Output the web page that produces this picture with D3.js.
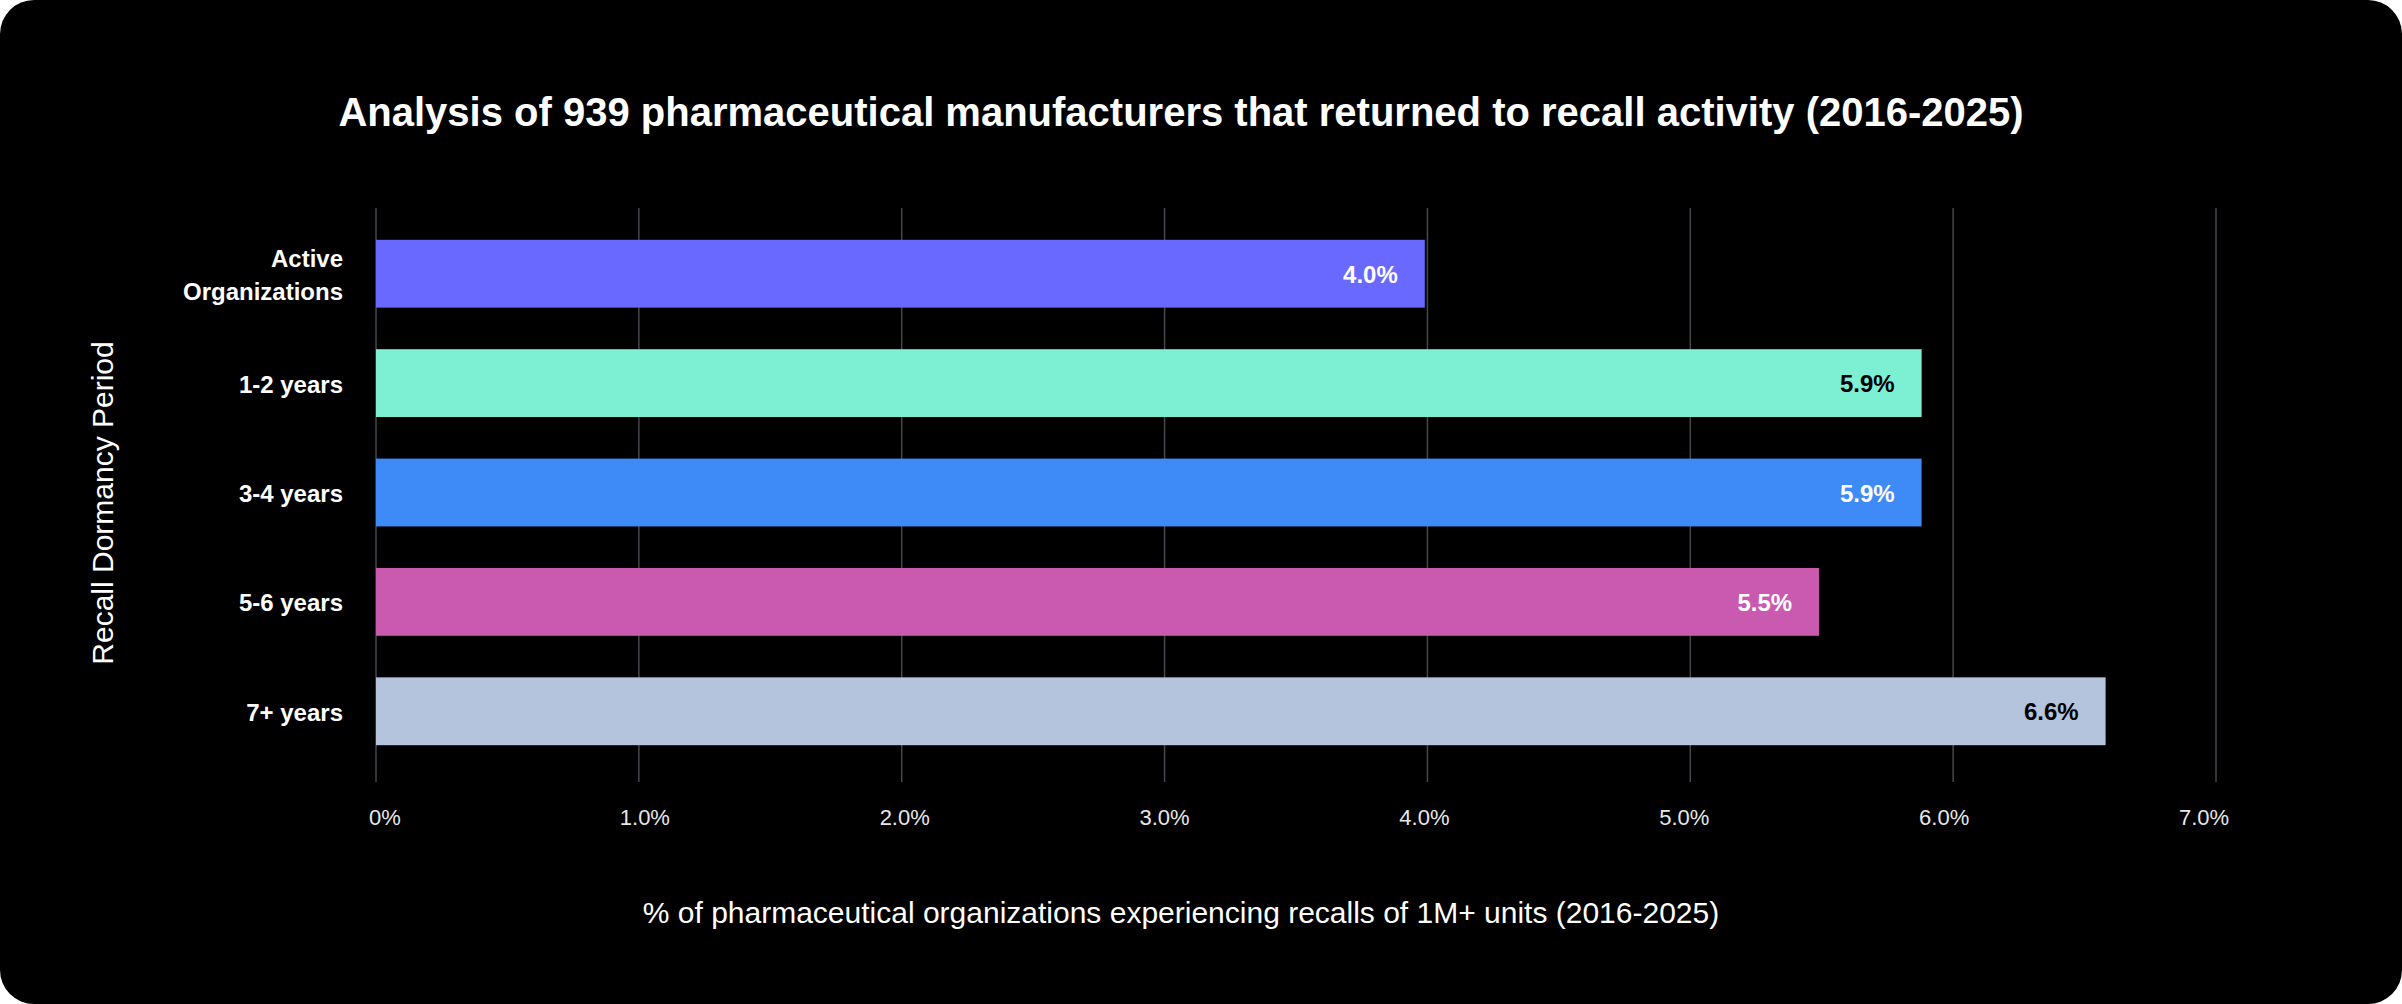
<!DOCTYPE html>
<html>
<head>
<meta charset="utf-8">
<script src="https://cdn.jsdelivr.net/npm/d3@7/dist/d3.min.js"></script>
<style>
  html, body { margin: 0; padding: 0; background: #ffffff; }
  svg { display: block; }
  text { font-family: "Liberation Sans", Arial, Helvetica, sans-serif; }
</style>
</head>
<body>
<div id="chart"></div>
<script>
// ---- data ----
const categories = ["Active Organizations", "1-2 years", "3-4 years", "5-6 years", "7+ years"];
const categoryLines = [["Active", "Organizations"], ["1-2 years"], ["3-4 years"], ["5-6 years"], ["7+ years"]];
const values = [3.99, 5.88, 5.88, 5.49, 6.58];
const barColors = ["#6969FF", "#7DEFD3", "#3E8BF8", "#C95AB0", "#B4C4DC"];
const valueLabelColors = ["#ffffff", "#000000", "#ffffff", "#ffffff", "#000000"];
const xTicks = [0, 1, 2, 3, 4, 5, 6, 7];
const xTickLabels = ["0%", "1.0%", "2.0%", "3.0%", "4.0%", "5.0%", "6.0%", "7.0%"];
const titleText = "Analysis of 939 pharmaceutical manufacturers that returned to recall activity (2016-2025)";
const xTitleText = "% of pharmaceutical organizations experiencing recalls of 1M+ units (2016-2025)";
const yTitleText = "Recall Dormancy Period";

// ---- layout ----
const W = 2402, H = 1004;
const svg = d3.select("#chart").append("svg").attr("width", W).attr("height", H);

svg.append("rect").attr("x", 0).attr("y", 0).attr("width", W).attr("height", H)
  .attr("rx", 34).attr("ry", 34).attr("fill", "#000000");

const x = d3.scaleLinear().domain([0, 7]).range([376, 2216]);
const xLabel = d3.scaleLinear().domain([0, 7]).range([384.5, 2203.5]);
const y = d3.scaleBand().domain(categories).range([207, 778]).paddingInner(0.38).paddingOuter(0.3);
const gridTop = 208, gridBottom = 782;

// gridlines
svg.append("g").selectAll("line").data(xTicks).join("line")
  .attr("x1", d => x(d)).attr("x2", d => x(d))
  .attr("y1", gridTop).attr("y2", gridBottom)
  .attr("stroke", "#44474e").attr("stroke-width", 1.5);

// bars
svg.append("g").selectAll("rect").data(categories).join("rect")
  .attr("x", x(0))
  .attr("y", d => y(d))
  .attr("width", (d, i) => x(values[i]) - x(0))
  .attr("height", y.bandwidth())
  .attr("fill", (d, i) => barColors[i]);

// value labels
const fmt = d3.format(".1f");
svg.append("g").selectAll("text").data(categories).join("text")
  .attr("x", (d, i) => x(values[i]) - 27)
  .attr("y", d => y(d) + y.bandwidth() / 2 + 9)
  .attr("text-anchor", "end")
  .attr("font-size", 24).attr("font-weight", "bold")
  .attr("fill", (d, i) => valueLabelColors[i])
  .text((d, i) => fmt(values[i]) + "%");

// category labels
const catG = svg.append("g");
categories.forEach((c, i) => {
  const lines = categoryLines[i];
  const cy = y(c) + y.bandwidth() / 2;
  const lh = 33;
  const t = catG.append("text")
    .attr("text-anchor", "end")
    .attr("font-size", 24).attr("font-weight", "bold")
    .attr("fill", "#ffffff");
  lines.forEach((ln, j) => {
    t.append("tspan")
      .attr("x", 343)
      .attr("y", cy + 9.5 + (j - (lines.length - 1) / 2) * lh)
      .text(ln);
  });
});

// x axis tick labels
const xAxis = d3.axisBottom(xLabel).tickValues(xTicks).tickSize(0)
  .tickFormat((d, i) => xTickLabels[i]);
const gx = svg.append("g").attr("transform", "translate(0,806)").call(xAxis);
gx.select(".domain").remove();
gx.selectAll("text")
  .attr("font-size", 22)
  .attr("font-family", "'Liberation Sans', Arial, sans-serif")
  .attr("fill", "#e8e8e8");

// titles
svg.append("text")
  .attr("x", 1181).attr("y", 126)
  .attr("text-anchor", "middle")
  .attr("font-size", 40).attr("font-weight", "bold")
  .attr("fill", "#ffffff")
  .text(titleText);

svg.append("text")
  .attr("x", 1181).attr("y", 923)
  .attr("text-anchor", "middle")
  .attr("font-size", 30)
  .attr("fill", "#ffffff")
  .text(xTitleText);

svg.append("text")
  .attr("transform", "translate(113,503) rotate(-90)")
  .attr("text-anchor", "middle")
  .attr("font-size", 30)
  .attr("fill", "#ffffff")
  .text(yTitleText);
</script>
</body>
</html>
